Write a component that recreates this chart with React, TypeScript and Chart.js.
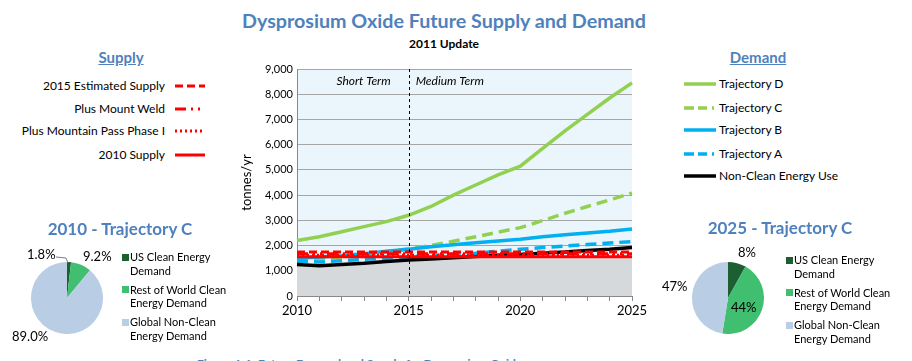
import React, { useEffect, useRef } from "react";
import { Chart, registerables } from "chart.js";

Chart.register(...registerables);

// ---------- DATA ----------
const years = ["2010","2011","2012","2013","2014","2015","2016","2017","2018","2019","2020","2021","2022","2023","2024","2025"];
const xTickLabels = ["2010", "2015", "2020", "2025"];
const yTickValues = [0, 1000, 2000, 3000, 4000, 5000, 6000, 7000, 8000, 9000];

const trajectoryD = [2200, 2350, 2550, 2750, 2950, 3200, 3550, 4000, 4400, 4800, 5150, 5850, 6550, 7200, 7850, 8450];
const trajectoryC = [1420, 1470, 1550, 1640, 1750, 1870, 2000, 2170, 2350, 2530, 2710, 2990, 3280, 3550, 3810, 4080];
const trajectoryB = [1500, 1550, 1600, 1680, 1770, 1850, 1950, 2030, 2110, 2180, 2250, 2350, 2430, 2500, 2570, 2660];
const trajectoryA = [1380, 1350, 1400, 1450, 1500, 1550, 1600, 1650, 1700, 1780, 1850, 1920, 1980, 2040, 2100, 2160];
const nonCleanUse = [1250, 1200, 1250, 1300, 1370, 1430, 1470, 1520, 1570, 1620, 1650, 1700, 1740, 1800, 1850, 1920];
const supply2015Estimated = [1740, 1740, 1740, 1740, 1740, 1740, 1740, 1740, 1740, 1740, 1740, 1740, 1740, 1740, 1740, 1740];
const supplyMountWeld = [1680, 1680, 1680, 1680, 1680, 1680, 1680, 1680, 1680, 1680, 1680, 1680, 1680, 1680, 1680, 1680];
const supplyMountainPass = [1620, 1620, 1620, 1620, 1620, 1620, 1620, 1620, 1620, 1620, 1620, 1620, 1620, 1620, 1620, 1620];
const supply2010 = [1560, 1560, 1560, 1560, 1560, 1560, 1560, 1560, 1560, 1560, 1560, 1560, 1560, 1560, 1560, 1560];
const baseArea = [1250, 1200, 1250, 1300, 1370, 1430, 1470, 1500, 1500, 1500, 1500, 1500, 1500, 1500, 1500, 1500];

const termDivider = "2015";
const termLabels = ["Short Term", "Medium Term"];

const pieCategories = ["US Clean Energy Demand", "Rest of World Clean Energy Demand", "Global Non-Clean Energy Demand"];
const pie2010Values = [1.8, 9.2, 89.0];
const pie2010Labels = ["1.8%", "9.2%", "89.0%"];
const pie2025Values = [8, 44, 47];
const pie2025Labels = ["8%", "44%", "47%"];

const supplyLegend = ["2015 Estimated Supply", "Plus Mount Weld", "Plus Mountain Pass Phase I", "2010 Supply"];
const demandLegend = ["Trajectory D", "Trajectory C", "Trajectory B", "Trajectory A", "Non-Clean Energy Use"];

// ---------- STYLE ----------
const FONT = "Lato, 'Open Sans', sans-serif";
const BLUE_TITLE = "#4F81BD";
const GREEN = "#92D050";
const CYAN = "#00B0F0";
const RED = "#FF0000";
const PIE_COLORS = ["#1D5E32", "#3FBF6F", "#B9CDE5"];

const supplyStyles = [
  { dash: [8, 4], width: 3 },
  { dash: [11, 5, 2, 5, 2, 5], width: 3 },
  { dash: [2, 3], width: 3 },
  { dash: [], width: 3 },
];
const demandStyles = [
  { color: GREEN, dash: [], width: 3.5 },
  { color: GREEN, dash: [11, 6], width: 3.5 },
  { color: CYAN, dash: [], width: 3.5 },
  { color: CYAN, dash: [11, 6], width: 3.5 },
  { color: "#000000", dash: [], width: 3.5 },
];

const plotDecor = {
  id: "plotDecor",
  beforeDraw(chart: any) {
    const { ctx, chartArea } = chart;
    ctx.save();
    ctx.fillStyle = "#EAF6FC";
    ctx.fillRect(chartArea.left, chartArea.top, chartArea.right - chartArea.left, chartArea.bottom - chartArea.top);
    ctx.restore();
  },
  afterDatasetsDraw(chart: any) {
    const { ctx, chartArea, scales } = chart;
    const x = scales.x.getPixelForValue(years.indexOf(termDivider));
    ctx.save();
    ctx.strokeStyle = "#000";
    ctx.lineWidth = 1;
    ctx.setLineDash([3, 3]);
    ctx.beginPath();
    ctx.moveTo(Math.round(x) + 0.5, chartArea.top);
    ctx.lineTo(Math.round(x) + 0.5, chartArea.bottom);
    ctx.stroke();
    ctx.setLineDash([]);
    ctx.fillStyle = "#000";
    ctx.font = `italic 12px ${FONT}`;
    ctx.textBaseline = "middle";
    ctx.textAlign = "right";
    ctx.fillText(termLabels[0], x - 18, chartArea.top + 12);
    ctx.textAlign = "left";
    ctx.fillText(termLabels[1], x + 7, chartArea.top + 12);
    ctx.restore();
  },
};

function MainChart() {
  const ref = useRef<HTMLCanvasElement>(null);
  useEffect(() => {
    const ds: any[] = [];
    const supplies = [supply2015Estimated, supplyMountWeld, supplyMountainPass, supply2010];
    supplies.forEach((d, i) => {
      ds.push({
        label: supplyLegend[i],
        data: d,
        borderColor: RED,
        borderWidth: supplyStyles[i].width,
        borderDash: supplyStyles[i].dash,
        pointRadius: 0,
        fill: false,
        tension: 0,
      });
    });
    const demands = [trajectoryD, trajectoryC, trajectoryB, trajectoryA, nonCleanUse];
    const demandOrder = [4, 3, 2, 1, 0];
    demandOrder.forEach((i) => {
      ds.push({
        label: demandLegend[i],
        data: demands[i],
        borderColor: demandStyles[i].color,
        borderWidth: demandStyles[i].width,
        borderDash: demandStyles[i].dash,
        pointRadius: 0,
        fill: false,
        tension: 0,
      });
    });
    ds.push({
      label: "base",
      data: baseArea,
      borderWidth: 0,
      borderColor: "rgba(0,0,0,0)",
      backgroundColor: "#D6D9DB",
      pointRadius: 0,
      fill: "origin",
      tension: 0,
    });
    const chart = new Chart(ref.current!, {
      type: "line",
      data: { labels: years, datasets: ds },
      options: {
        animation: false,
        responsive: false,
        maintainAspectRatio: false,
        layout: { padding: { top: 14, right: 18, left: 0, bottom: 0 } },
        plugins: {
          legend: { display: false },
          tooltip: { enabled: false },
          filler: { drawTime: "beforeDatasetsDraw" } as any,
        },
        scales: {
          x: {
            type: "category",
            offset: false,
            grid: { display: true, drawOnChartArea: false, drawTicks: true, tickLength: 5, color: "#888" },
            border: { display: true, color: "#888" },
            ticks: {
              autoSkip: false,
              maxRotation: 0,
              color: "#000",
              font: { family: FONT, size: 13 },
              padding: 2,
              callback: (_v: any, i: number) => (xTickLabels.includes(years[i]) ? years[i] : ""),
            },
            afterFit: (s: any) => { s.height = 34; },
          },
          y: {
            min: 0,
            max: 9000,
            afterBuildTicks: (s: any) => { s.ticks = yTickValues.map((v) => ({ value: v })); },
            grid: { color: "#A6A6A6", drawTicks: false },
            border: { display: true, color: "#888" },
            ticks: {
              color: "#000",
              font: { family: FONT, size: 11 },
              padding: 4,
              callback: (v: any) => Number(v).toLocaleString("en-US"),
            },
            title: { display: true, text: "tonnes/yr", color: "#000", font: { family: FONT, size: 13 }, padding: { top: 9, bottom: 0 } },
            afterFit: (s: any) => { s.width = 67; },
          },
        },
      },
      plugins: [plotDecor],
    });
    return () => chart.destroy();
  }, []);
  return <canvas ref={ref} width={420} height={275} style={{ position: "absolute", left: 230, top: 55, width: 420, height: 275 }} />;
}

function PieChart({ values, left, top, size }: { values: number[]; left: number; top: number; size: number }) {
  const ref = useRef<HTMLCanvasElement>(null);
  useEffect(() => {
    const chart = new Chart(ref.current!, {
      type: "pie",
      data: { labels: pieCategories, datasets: [{ data: values, backgroundColor: PIE_COLORS, borderWidth: 0 }] },
      options: {
        animation: false,
        responsive: false,
        maintainAspectRatio: false,
        layout: { padding: 0 },
        plugins: { legend: { display: false }, tooltip: { enabled: false } },
      },
    });
    return () => chart.destroy();
  }, []);
  return <canvas ref={ref} width={size} height={size} style={{ position: "absolute", left, top, width: size, height: size }} />;
}

function Txt({ x, y, children, style }: { x: number; y: number; children: any; style?: any }) {
  return (
    <div style={{ position: "absolute", left: x, top: y, whiteSpace: "nowrap", fontFamily: FONT, lineHeight: 1, ...style }}>{children}</div>
  );
}

function Swatch({ color, dash, width, w }: { color: string; dash: number[]; width: number; w: number }) {
  return (
    <svg width={w} height={8} style={{ display: "block" }}>
      <line x1={0} y1={4} x2={w} y2={4} stroke={color} strokeWidth={width} strokeDasharray={dash.length ? dash.join(" ") : undefined} />
    </svg>
  );
}

function PieLegend({ x, y }: { x: number; y: number }) {
  const lines = [["US Clean Energy", "Demand"], ["Rest of World Clean", "Energy Demand"], ["Global Non-Clean", "Energy Demand"]];
  return (
    <>
      {lines.map((l, i) => (
        <React.Fragment key={i}>
          <div style={{ position: "absolute", left: x, top: y + i * 32.7 - 3.5, width: 7, height: 7, background: PIE_COLORS[i] }} />
          <Txt x={x + 8} y={y + i * 32.7 - 6} style={{ fontSize: 11 }}>{l[0]}</Txt>
          <Txt x={x + 8} y={y + i * 32.7 + 7.5} style={{ fontSize: 11 }}>{l[1]}</Txt>
        </React.Fragment>
      ))}
    </>
  );
}

export default function App() {
  useEffect(() => {
    document.body.style.margin = "0";
  }, []);
  const center = (x: number, y: number, text: string, style: any) => (
    <div style={{ position: "absolute", left: x - 300, top: y, width: 600, textAlign: "center", fontFamily: FONT, lineHeight: 1, whiteSpace: "nowrap", ...style }}>{text}</div>
  );
  return (
    <div style={{ position: "fixed", left: 0, top: 0, width: 912, height: 361, overflow: "hidden", background: "#fff", color: "#000" }}>
      {center(444, 11, "Dysprosium Oxide Future Supply and Demand", { fontSize: 19.7, fontWeight: 700, color: BLUE_TITLE })}
      {center(444, 38, "2011 Update", { fontSize: 12, fontWeight: 700 })}

      {center(121, 50, "Supply", { fontSize: 15, fontWeight: 700, color: BLUE_TITLE, textDecoration: "underline" })}
      {supplyLegend.map((t, i) => {
        const ys = [86, 109, 131, 155];
        return (
          <React.Fragment key={t}>
            <div style={{ position: "absolute", right: 912 - 165, top: ys[i] - 6, fontFamily: FONT, fontSize: 12, lineHeight: 1, whiteSpace: "nowrap" }}>{t}</div>
            <div style={{ position: "absolute", left: 175, top: ys[i] - 4 }}>
              <Swatch color={RED} dash={supplyStyles[i].dash} width={supplyStyles[i].width} w={30} />
            </div>
          </React.Fragment>
        );
      })}

      {center(758, 50, "Demand", { fontSize: 15, fontWeight: 700, color: BLUE_TITLE, textDecoration: "underline" })}
      {demandLegend.map((t, i) => {
        const ys = [84, 108, 130, 154, 176];
        return (
          <React.Fragment key={t}>
            <div style={{ position: "absolute", left: 684, top: ys[i] - 4 }}>
              <Swatch color={demandStyles[i].color} dash={i === 1 || i === 3 ? [10, 4, 9, 5, 2, 9] : []} width={3.5} w={32} />
            </div>
            <Txt x={719} y={ys[i] - 6} style={{ fontSize: 12 }}>{t}</Txt>
          </React.Fragment>
        );
      })}

      <MainChart />

      {center(120, 220, "2010 - Trajectory C", { fontSize: 17, fontWeight: 700, color: BLUE_TITLE })}
      <PieChart values={pie2010Values} left={31} top={262} size={72} />
      <Txt x={27} y={248} style={{ fontSize: 13 }}>{pie2010Labels[0]}</Txt>
      <svg width={20} height={12} style={{ position: "absolute", left: 55, top: 254 }}>
        <polyline points="1,3 11,4 13,9" fill="none" stroke="#7F7F7F" strokeWidth={1} />
      </svg>
      <Txt x={83} y={250} style={{ fontSize: 13 }}>{pie2010Labels[1]}</Txt>
      <Txt x={12} y={330} style={{ fontSize: 13 }}>{pie2010Labels[2]}</Txt>
      <PieLegend x={122} y={257} />

      {center(780, 219, "2025 - Trajectory C", { fontSize: 17, fontWeight: 700, color: BLUE_TITLE })}
      <PieChart values={pie2025Values} left={692} top={262} size={72} />
      <Txt x={738} y={246} style={{ fontSize: 13 }}>{pie2025Labels[0]}</Txt>
      <Txt x={731} y={301} style={{ fontSize: 13 }}>{pie2025Labels[1]}</Txt>
      <Txt x={662} y={280} style={{ fontSize: 13 }}>{pie2025Labels[2]}</Txt>
      <PieLegend x={786} y={260} />

      <Txt x={197} y={358} style={{ fontSize: 12, fontWeight: 700, color: BLUE_TITLE }}>Figure 4-1: Future Demand and Supply for Dysprosium Oxide</Txt>
    </div>
  );
}
